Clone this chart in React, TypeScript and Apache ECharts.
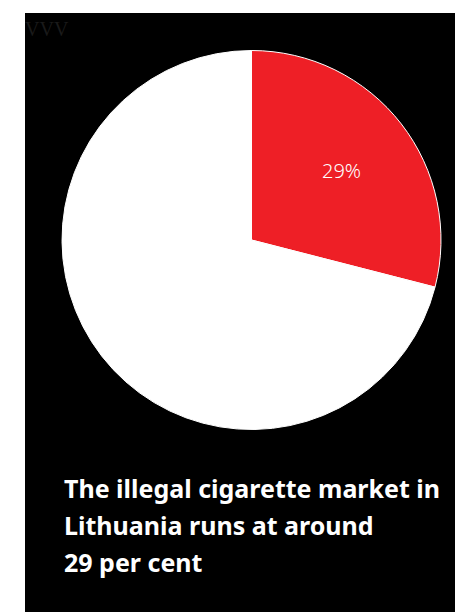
import React, { useEffect, useRef } from "react";
import * as echarts from "echarts";

const categories = ["Illegal", "Legal"];
const values = [29, 71];
const colors = ["#ee1f26", "#ffffff"];
const labels = ["29%", ""];
const titleLines = [
  "The illegal cigarette market in",
  "Lithuania runs at around",
  "29 per cent",
];

export default function App() {
  const ref = useRef<HTMLDivElement>(null);
  useEffect(() => {
    if (!ref.current) return;
    const chart = echarts.init(ref.current, null, { renderer: "svg" });
    const data = categories.map((c, i) => ({
      name: c,
      value: values[i],
      itemStyle: { color: colors[i] },
    }));
    chart.setOption({
      animation: false,
      backgroundColor: "#000000",
      graphic: [
        {
          type: "text",
          left: 0,
          top: 6,
          style: {
            text: "VVV",
            fill: "#1a1a1a",
            font: "20px serif",
          },
        },
      ],
      title: {
        text: titleLines.join("\n"),
        left: 39,
        top: 456,
        padding: 0,
        textStyle: {
          color: "#ffffff",
          fontFamily: "Noto Sans",
          fontWeight: "bold",
          fontSize: 25,
          lineHeight: 37,
        },
      },
      series: [
        {
          type: "pie",
          center: [226.5, 227],
          radius: [0, 189.5],
          startAngle: 90,
          clockwise: true,
          silent: true,
          data,
          itemStyle: { borderColor: "#ffffff", borderWidth: 1 },
          label: { show: false },
          labelLine: { show: false },
        },
        {
          type: "pie",
          center: [226.5, 227],
          radius: [0, 222],
          startAngle: 90,
          clockwise: true,
          silent: true,
          z: 5,
          data: categories.map((c, i) => ({
            name: c,
            value: values[i],
            itemStyle: { color: "rgba(0,0,0,0)" },
            label: { formatter: labels[i] },
          })),
          label: {
            show: true,
            position: "inside",
            color: "#ffffff",
            fontFamily: "Noto Sans",
            fontWeight: 300,
            fontSize: 20,
          },
          labelLine: { show: false },
        },
      ],
    });
    return () => chart.dispose();
  }, []);
  return (
    <div
      ref={ref}
      style={{
        position: "absolute",
        left: 25,
        top: 13,
        width: 430,
        height: 599,
      }}
    />
  );
}
